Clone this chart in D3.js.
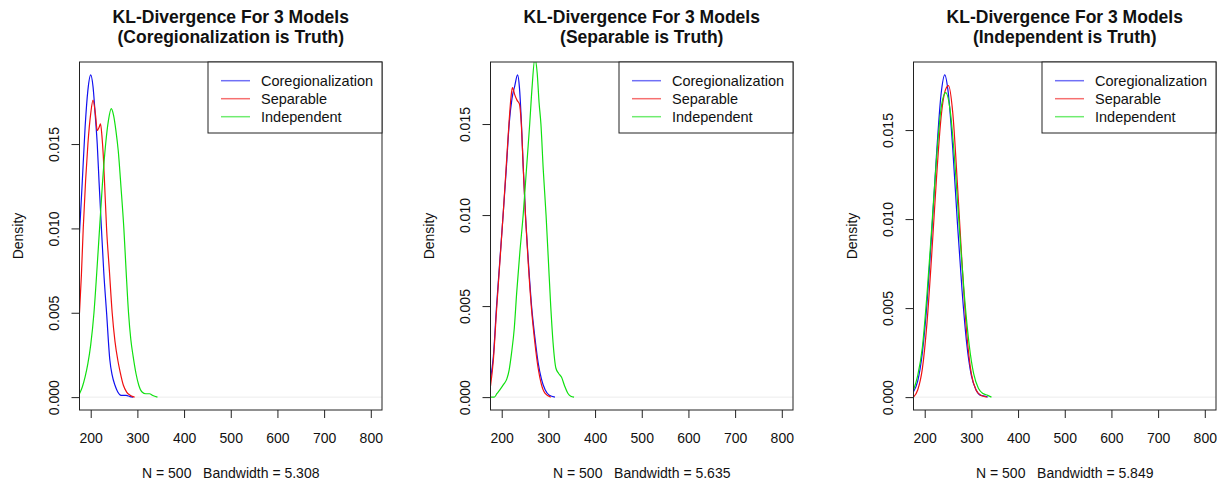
<!DOCTYPE html>
<html>
<head>
<meta charset="utf-8">
<script src="https://cdn.jsdelivr.net/npm/d3@7"></script>
<style>
  body { margin: 0; background: #fff; }
  text { font-family: "Liberation Sans", Arial, sans-serif; fill: #111; }
</style>
</head>
<body>
<div id="chart"></div>
<script>
// values: [x, density]
const xTicks = [200, 300, 400, 500, 600, 700, 800]
const yTicks = [0, 0.005, 0.010, 0.015]
const modelNames = ['Coregionalization', 'Separable', 'Independent']
const modelColors = ['#1010f0', '#f01010', '#10e010']

const titles = ['(Coregionalization is Truth)', '(Separable is Truth)', '(Independent is Truth)']
const bandwidths = ['5.308', '5.635', '5.849']

// panel 1 : coregionalization is truth
const p1Coreg = [[176,0.0097],[182,0.0128],[188,0.0160],[194,0.0182],[200,0.0191],[205,0.0184],[210,0.0166],[214,0.0150],[218,0.0127],[223,0.0100],[228,0.0074],[234,0.0050],[241,0.0022],[246,0.0013],[252,0.0007],[258,0.0003],[265,0.0001],[276,0.0001],[284,0.00003],[291,0]]
const p1Sep = [[176,0.0050],[180,0.0072],[184,0.0100],[189,0.0128],[194,0.0150],[200,0.0168],[205,0.0176],[210,0.0168],[214,0.0158],[218,0.0160],[221,0.0162],[224,0.0155],[227,0.0143],[230,0.0125],[234,0.0100],[240,0.0075],[246,0.0050],[252,0.0033],[258,0.0022],[263,0.0015],[270,0.0007],[277,0.0003],[285,0.0001],[294,0]]
const p1Ind = [[176,0.0002],[182,0.0006],[188,0.0012],[194,0.0020],[200,0.0031],[207,0.0050],[213,0.0074],[219,0.0100],[225,0.0126],[232,0.0150],[238,0.0164],[244,0.0171],[249,0.0167],[254,0.0158],[259,0.0146],[265,0.0124],[271,0.0100],[276,0.0074],[281,0.0050],[286,0.0034],[291,0.0024],[297,0.0014],[303,0.0007],[310,0.0003],[318,0.0002],[326,0.0002],[333,0.0001],[343,0]]

// panel 2 : separable is truth
const p2Coreg = [[176,0.0010],[182,0.0022],[189,0.0050],[196,0.0075],[203,0.0100],[210,0.0126],[216,0.0150],[222,0.0164],[228,0.0171],[234,0.0177],[238,0.0170],[242,0.0152],[246,0.0127],[251,0.0100],[257,0.0075],[264,0.0050],[271,0.0033],[278,0.0019],[285,0.0010],[293,0.0004],[302,0.0001],[314,0]]
const p2Sep = [[176,0.0006],[182,0.0020],[189,0.0048],[196,0.0074],[203,0.0100],[210,0.0128],[216,0.0152],[220,0.0165],[223,0.0170],[228,0.0166],[233,0.0163],[238,0.0161],[242,0.0150],[246,0.0127],[251,0.0099],[257,0.0073],[264,0.0048],[271,0.0030],[278,0.0016],[285,0.0007],[293,0.0002],[305,0]]
const p2Ind = [[176,0],[184,0],[190,0.0002],[196,0.0004],[204,0.0007],[211,0.0010],[216,0.0015],[221,0.0024],[227,0.0038],[232,0.0057],[239,0.0080],[246,0.0100],[253,0.0125],[260,0.0150],[265,0.0170],[271,0.0186],[276,0.0178],[280,0.0162],[284,0.0150],[289,0.0125],[295,0.0100],[300,0.0075],[305,0.0050],[310,0.0030],[316,0.0016],[322,0.0013],[328,0.0011],[335,0.0006],[342,0.0002],[348,0.00005],[355,0]]

// panel 3 : independent is truth
const p3Coreg = [[176,0.0003],[185,0.0009],[195,0.0025],[205,0.0053],[215,0.0092],[225,0.0135],[235,0.0170],[243,0.0181],[250,0.0172],[260,0.0140],[270,0.0098],[280,0.0060],[290,0.0030],[300,0.0012],[310,0.0004],[320,0.0001],[330,0.00005],[335,0]]
const p3Sep = [[176,0],[185,0.0004],[195,0.0016],[205,0.0042],[215,0.0080],[225,0.0122],[235,0.0157],[245,0.0173],[251,0.0175],[260,0.0160],[270,0.0120],[280,0.0075],[290,0.0036],[300,0.0013],[310,0.0004],[320,0.0001],[333,0]]
const p3Ind = [[176,0.0004],[185,0.0012],[195,0.0028],[205,0.0058],[215,0.0095],[225,0.0133],[235,0.0162],[245,0.0171],[255,0.0160],[265,0.0130],[275,0.0092],[285,0.0057],[295,0.0030],[305,0.0013],[315,0.0005],[325,0.0002],[335,0.0001],[343,0]]

const panels = [
    { curves: [p1Coreg, p1Sep, p1Ind], left: 79.5 },
    { curves: [p2Coreg, p2Sep, p2Ind], left: 490.5 },
    { curves: [p3Coreg, p3Sep, p3Ind], left: 913.5 }
]

const W = 1217, H = 480
const plotTop = 62, plotBottom = 410, plotW = 302.5
const plotH = plotBottom - plotTop

const svg = d3.select('#chart').append('svg')
    .attr('width', W)
    .attr('height', H)

panels.forEach((p, i) => {
    // R's plot(density()) takes ylim from the first curve, with 4% padding
    let yMax = d3.max(p.curves[0], d => d[1])
    let x = d3.scaleLinear().domain([176, 824]).range([0, plotW])
    let y = d3.scaleLinear().domain([-0.04 * yMax, 1.04 * yMax]).range([plotH, 0])

    let g = svg.append('g')
        .attr('transform', 'translate(' + p.left + ',' + plotTop + ')')

    g.append('clipPath').attr('id', 'clip' + i)
        .append('rect')
        .attr('width', plotW)
        .attr('height', plotH)

    // zero line
    g.append('line')
        .attr('x1', 0).attr('x2', plotW)
        .attr('y1', y(0)).attr('y2', y(0))
        .attr('stroke', '#ececec')

    let line = d3.line()
        .x(d => x(d[0]))
        .y(d => y(d[1]))
        .curve(d3.curveMonotoneX)

    p.curves.forEach((c, j) => {
        g.append('path')
            .datum(c)
            .attr('clip-path', 'url(#clip' + i + ')')
            .attr('fill', 'none')
            .attr('stroke', modelColors[j])
            .attr('stroke-width', 1.2)
            .attr('d', line)
    })

    // axes
    let xAxis = d3.axisBottom(x).tickValues(xTicks).tickSize(8).tickSizeOuter(0)
    let gx = g.append('g')
        .attr('transform', 'translate(0,' + plotH + ')')
        .call(xAxis)
    gx.select('.domain').remove()
    gx.selectAll('line').attr('stroke', '#222')
    gx.selectAll('text').style('font-size', '14px').attr('dy', 0).attr('y', 33)

    let yAxis = d3.axisLeft(y).tickValues(yTicks).tickSize(8).tickSizeOuter(0).tickFormat(d3.format('.3f'))
    let gy = g.append('g').call(yAxis)
    gy.select('.domain').remove()
    gy.selectAll('line').attr('stroke', '#222')
    gy.selectAll('text')
        .style('font-size', '14px')
        .style('text-anchor', 'middle')
        .attr('transform', 'rotate(-90)')
        .attr('x', 0)
        .attr('y', -21)
        .attr('dy', 0)

    // box
    g.append('rect')
        .attr('x', 0).attr('y', 0)
        .attr('width', plotW).attr('height', plotH)
        .attr('fill', 'none')
        .attr('stroke', '#222')

    // titles
    g.append('text')
        .attr('x', plotW / 2).attr('y', 23 - plotTop)
        .attr('text-anchor', 'middle')
        .style('font-size', '17.5px').style('font-weight', 'bold')
        .text('KL-Divergence For 3 Models')
    g.append('text')
        .attr('x', plotW / 2).attr('y', 43 - plotTop)
        .attr('text-anchor', 'middle')
        .style('font-size', '17.5px').style('font-weight', 'bold')
        .text(titles[i])

    g.append('text')
        .attr('x', plotW / 2).attr('y', 478 - plotTop)
        .attr('text-anchor', 'middle')
        .style('font-size', '14px')
        .style('white-space', 'pre')
        .text('N = 500   Bandwidth = ' + bandwidths[i])

    g.append('text')
        .attr('transform', 'translate(-57,' + (plotH / 2) + ') rotate(-90)')
        .attr('text-anchor', 'middle')
        .style('font-size', '14px')
        .text('Density')

    // legend, top right
    let lw = 174, lh = 71
    let lg = g.append('g').attr('transform', 'translate(' + (plotW - lw) + ',0)')
    lg.append('rect')
        .attr('width', lw).attr('height', lh)
        .attr('fill', '#fff')
        .attr('stroke', '#222')
    modelNames.forEach((name, j) => {
        let ly = 18.7 + j * 18
        lg.append('line')
            .attr('x1', 13).attr('x2', 42)
            .attr('y1', ly).attr('y2', ly)
            .attr('stroke', modelColors[j])
            .attr('stroke-opacity', 0.6)
            .attr('stroke-width', 1.5)
        lg.append('text')
            .attr('x', 53).attr('y', ly + 5)
            .style('font-size', '14.5px')
            .text(name)
    })
})
</script>
</body>
</html>
